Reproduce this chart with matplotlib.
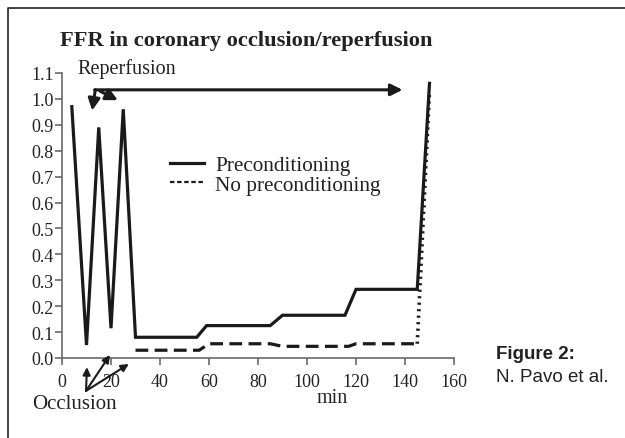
import matplotlib
matplotlib.use("Agg")
import matplotlib.pyplot as plt
from matplotlib.lines import Line2D

# ---- data ----
pre_t = [4, 10, 15, 20, 25, 30, 55, 59, 85, 90, 115.5, 120, 145, 150]
pre_v = [0.97, 0.05, 0.89, 0.115, 0.96, 0.08, 0.08, 0.125, 0.125, 0.165, 0.165, 0.265, 0.265, 1.06]
nopre_t = [30, 56, 60, 85, 90, 117, 120, 145, 150]
nopre_v = [0.03, 0.03, 0.055, 0.055, 0.045, 0.045, 0.055, 0.055, 1.03]
xticks = [0, 20, 40, 60, 80, 100, 120, 140, 160]
yticks = [0.0, 0.1, 0.2, 0.3, 0.4, 0.5, 0.6, 0.7, 0.8, 0.9, 1.0, 1.1]
title = "FFR in coronary occlusion/reperfusion"
labels = ["Preconditioning", "No preconditioning"]

serif = ["Liberation Serif", "DejaVu Serif"]
sans = ["Liberation Sans", "DejaVu Sans"]
ink = "#1a1a1a"
axc = "#6a6a6a"

W, H = 625, 439
fig = plt.figure(figsize=(W / 100, H / 100), dpi=100)
fig.patch.set_facecolor("white")

ax = fig.add_axes([62 / W, 1 - 359 / H, 392 / W, (359 - 74) / H])
ax.set_xlim(0, 160)
ax.set_ylim(0, 1.1)

l1, = ax.plot(pre_t, pre_v, color=ink, lw=2.3, solid_joinstyle="miter", clip_on=False)
ax.plot(nopre_t[:-1], nopre_v[:-1], color=ink, lw=2.3, ls=(0, (4, 2)), clip_on=False)
ax.plot(nopre_t[-2:], nopre_v[-2:], color=ink, lw=2.6, ls=(0, (0.6, 1.2)), clip_on=False)
l2 = Line2D([], [], color=ink, lw=1.6, ls=(0, (2, 1.2)))

for s in ["top", "right"]:
    ax.spines[s].set_visible(False)
for s in ["left", "bottom"]:
    ax.spines[s].set_color(axc)
    ax.spines[s].set_linewidth(1.2)
ax.set_xticks(xticks)
ax.set_xticklabels([str(v) for v in xticks], fontfamily=serif, fontsize=13)
ax.set_yticks(yticks)
ax.set_yticklabels([f"{v:.1f}" for v in yticks], fontfamily=serif, fontsize=13)
ax.tick_params(axis="both", colors=axc, length=5, width=1.2, labelcolor="#222222")
ax.tick_params(axis="y", pad=1)
ax.tick_params(axis="x", pad=6)

ax.set_xlabel("min", fontfamily=serif, fontsize=14.5, color="#222222")
ax.xaxis.set_label_coords(0.688, -0.105)

fig.text(60 / W, 1 - 41 / H, title, fontfamily=serif, fontweight="bold",
         fontsize=16.2, color="#222222", va="center", ha="left")

leg = ax.legend([l1, l2], labels, loc="upper left", bbox_to_anchor=(0.275, 0.712),
                frameon=False, prop={"family": serif, "size": 15.3},
                handlelength=1.6, handletextpad=0.55, labelspacing=0.0,
                borderaxespad=0, borderpad=0)
for t in leg.get_texts():
    t.set_color("#222222")

# Reperfusion annotation
ax.text(6.2, 1.12, "Reperfusion", fontfamily=serif, fontsize=14.5, color="#222222",
        va="center", ha="left", clip_on=False)
ap = dict(arrowstyle="-|>,head_length=0.7,head_width=0.35", color=ink, lw=2.2,
          shrinkA=0, shrinkB=0)
ax.annotate("", xy=(139, 1.035), xytext=(13.3, 1.035), arrowprops=ap, annotation_clip=False)
ax.annotate("", xy=(12.3, 0.955), xytext=(13.6, 1.035), arrowprops=ap, annotation_clip=False)
ax.annotate("", xy=(22.8, 0.995), xytext=(15.5, 1.03), arrowprops=ap, annotation_clip=False)

# Occlusion annotation
ap2 = dict(arrowstyle="-|>,head_length=0.45,head_width=0.22", color=ink, lw=1.5,
           shrinkA=0, shrinkB=0)
for tx, ty in [(10.2, -0.035), (19.6, 0.012), (27.3, -0.023)]:
    ax.annotate("", xy=(tx, ty), xytext=(9.8, -0.127), arrowprops=ap2, annotation_clip=False)
fig.text(32 / W, 1 - 405 / H, "Occlusion", fontfamily=serif, fontsize=15,
         color="#222222", va="center", ha="left")

# Figure caption
fig.text(496 / W, 1 - 355 / H, "Figure 2:", fontfamily=sans, fontweight="bold",
         fontsize=13.5, color="#222222", va="center", ha="left")
fig.text(496 / W, 1 - 378 / H, "N. Pavo et al.", fontfamily=sans,
         fontsize=13.5, color="#222222", va="center", ha="left")

# outer frame
fig.add_artist(Line2D([8 / W, 8 / W, 1.0], [0.0, 1 - 9 / H, 1 - 9 / H],
                      transform=fig.transFigure, color="#333333", lw=1.3))

fig.savefig("out.png", dpi=100)
